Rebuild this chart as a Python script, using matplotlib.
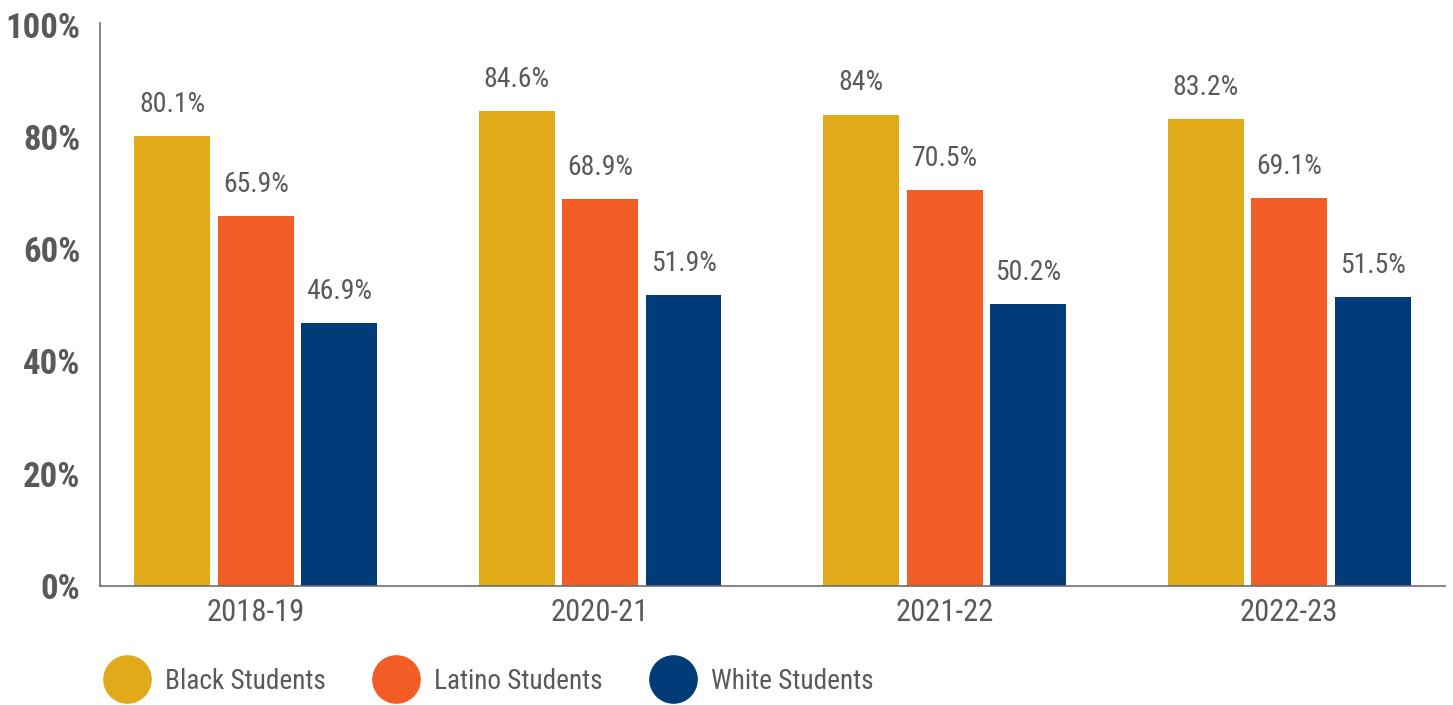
import numpy as np
import matplotlib.pyplot as plt
from matplotlib.lines import Line2D

years = ['2018-19', '2020-21', '2021-22', '2022-23']
groups = ['Black Students', 'Latino Students', 'White Students']
black = [80.1, 84.6, 84, 83.2]
latino = [65.9, 68.9, 70.5, 69.1]
white = [46.9, 51.9, 50.2, 51.5]
colors = ['#E1AA19', '#F15D25', '#013C78']
gray = '#58595B'

plt.rcParams['font.family'] = ['Roboto Condensed', 'Liberation Sans Narrow', 'Roboto', 'DejaVu Sans']

fig = plt.figure(figsize=(14.53, 7.05), dpi=100)
ax = fig.add_axes([0.0688, 0.1688, 0.9257, 0.7985])

x = np.arange(len(years))
width = 0.22
step = 0.242
for i, (vals, c) in enumerate(zip([black, latino, white], colors)):
    pos = x + (i - 1) * step
    ax.bar(pos, vals, width, color=c)
    for p, v in zip(pos, vals):
        ax.annotate(f'{v:g}%', (p, v), xytext=(0, 13), textcoords='offset points',
                    ha='center', va='bottom', fontsize=20, color=gray)

ax.set_xlim(-0.452, 3.452)
ax.set_ylim(0, 100.3)
ax.set_yticks([0, 20, 40, 60, 80, 100])
ax.set_yticklabels(['0%', '20%', '40%', '60%', '80%', '100%'],
                   fontsize=25, fontweight='bold', color=gray)
ax.set_xticks(x)
ax.set_xticklabels(years, fontsize=22, color=gray)
ax.tick_params(axis='both', length=0)
ax.tick_params(axis='y', pad=14)
ax.tick_params(axis='x', pad=9)
for s in ['top', 'right']:
    ax.spines[s].set_visible(False)
for s in ['left', 'bottom']:
    ax.spines[s].set_color('#6D6E71')
    ax.spines[s].set_linewidth(1.2)

handles = [Line2D([], [], marker='o', linestyle='none', markersize=34,
                  markerfacecolor=c, markeredgecolor=c) for c in colors]
fig.legend(handles, groups, loc='center left', bbox_to_anchor=(0.0555, 0.034),
           ncol=3, frameon=False, fontsize=19.6, labelcolor=gray,
           handletextpad=0.6, columnspacing=1.78, handlelength=1.6)

fig.savefig('out.png', dpi=100)
